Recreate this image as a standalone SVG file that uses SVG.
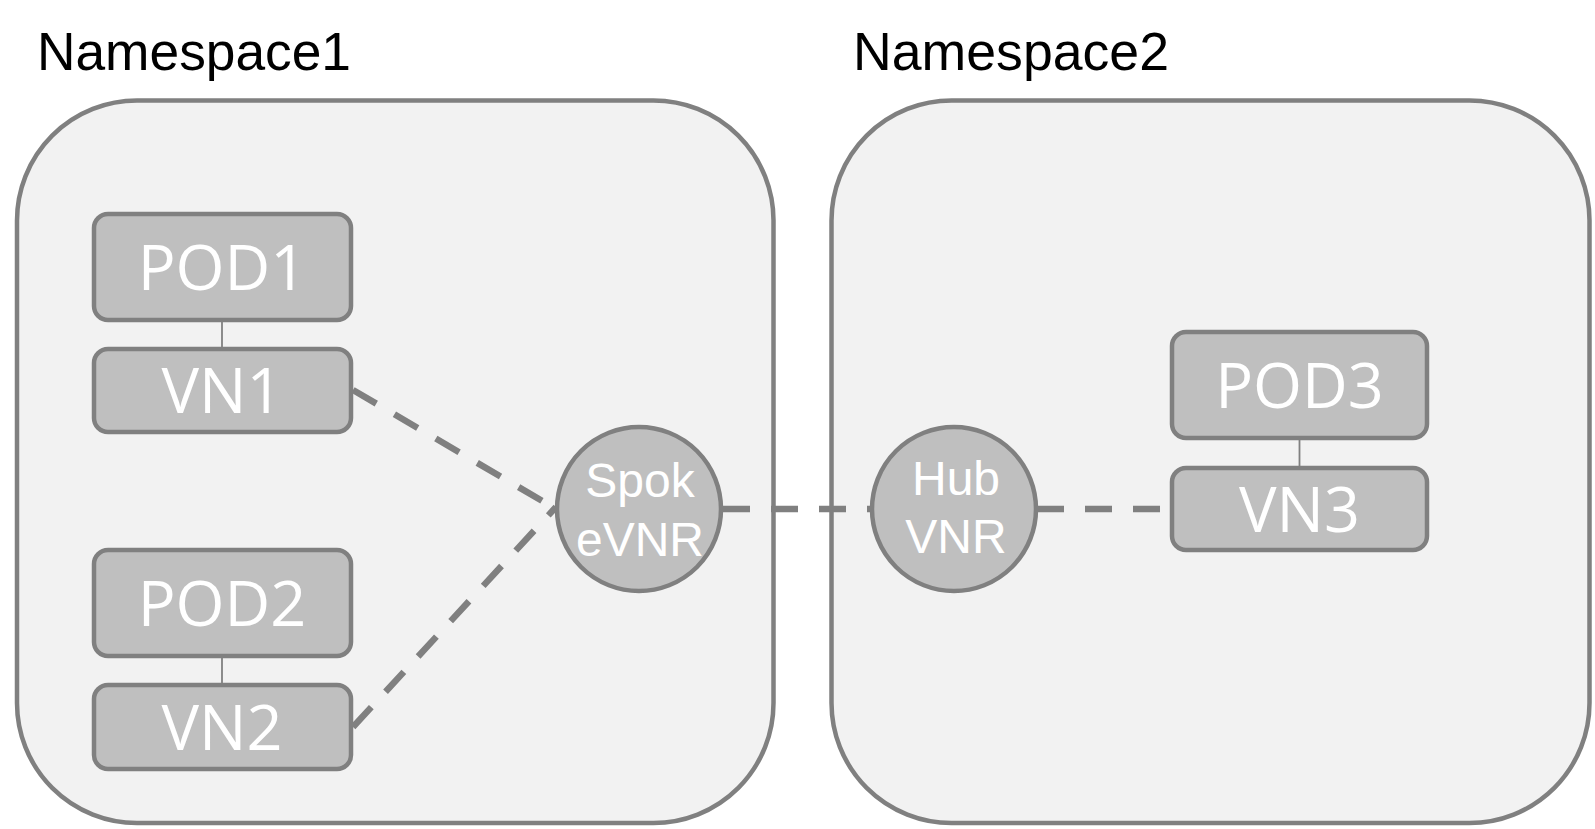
<svg xmlns="http://www.w3.org/2000/svg" width="1595" height="829" viewBox="0 0 1595 829">
<style>
.ns{fill:#f2f2f2;stroke:#808080;stroke-width:4.5}
.title{font-family:"Liberation Sans",Arial,sans-serif;font-size:53px;fill:#000}
.box{fill:#bfbfbf;stroke:#808080;stroke-width:4.5}
.btxt{font-family:"Open Sans","Noto Sans",sans-serif;font-size:63px;fill:#fff;text-anchor:middle}
.ctxt{font-family:"Liberation Sans",Arial,sans-serif;font-size:48px;fill:#fff;text-anchor:middle}
.link{stroke:#808080;stroke-width:1.8;fill:none}
.dash{stroke:#808080;stroke-width:6.5;stroke-dasharray:27 21;fill:none}
</style>
<rect width="1595" height="829" fill="#ffffff"/>
<g id="namespace1">
<rect class="ns" x="17" y="100.5" width="756.5" height="722.5" rx="120" ry="120"/>
<text class="title" x="37" y="69.5" textLength="314" lengthAdjust="spacingAndGlyphs">Namespace1</text>
</g>
<g id="namespace2">
<rect class="ns" x="831.5" y="100.5" width="758" height="722.5" rx="120" ry="120"/>
<text class="title" x="853" y="69.5" textLength="316" lengthAdjust="spacingAndGlyphs">Namespace2</text>
</g>
<g id="connectors">
<line class="link" x1="222" y1="320" x2="222" y2="349"/>
<line class="link" x1="222" y1="656" x2="222" y2="685"/>
<line class="link" x1="1299.5" y1="438" x2="1299.5" y2="468"/>
<line class="dash" x1="353" y1="390" x2="556" y2="509"/>
<line class="dash" x1="353" y1="727" x2="556" y2="507"/>
<line class="dash" x1="723" y1="509" x2="871" y2="509"/>
<line class="dash" x1="1037" y1="509" x2="1160" y2="509"/>
</g>
<g id="pod1">
<rect class="box" x="94" y="214" width="257" height="106" rx="14"/>
<text class="btxt" x="222" y="290">POD1</text>
</g>
<g id="vn1">
<rect class="box" x="94" y="349" width="257" height="83" rx="14"/>
<text class="btxt" x="222" y="413">VN1</text>
</g>
<g id="pod2">
<rect class="box" x="94" y="550" width="257" height="106" rx="14"/>
<text class="btxt" x="222" y="626">POD2</text>
</g>
<g id="vn2">
<rect class="box" x="94" y="685" width="257" height="84" rx="14"/>
<text class="btxt" x="222" y="750">VN2</text>
</g>
<g id="pod3">
<rect class="box" x="1172" y="332" width="255" height="106" rx="14"/>
<text class="btxt" x="1299.5" y="408">POD3</text>
</g>
<g id="vn3">
<rect class="box" x="1172" y="468" width="255" height="82" rx="14"/>
<text class="btxt" x="1299.5" y="532">VN3</text>
</g>
<g id="spoke-vnr">
<circle class="box" cx="639" cy="509" r="82"/>
<text class="ctxt" x="640" y="497">Spok</text>
<text class="ctxt" x="640" y="556">eVNR</text>
</g>
<g id="hub-vnr">
<circle class="box" cx="954" cy="509" r="82"/>
<text class="ctxt" x="956" y="495">Hub</text>
<text class="ctxt" x="956" y="553">VNR</text>
</g>
</svg>
